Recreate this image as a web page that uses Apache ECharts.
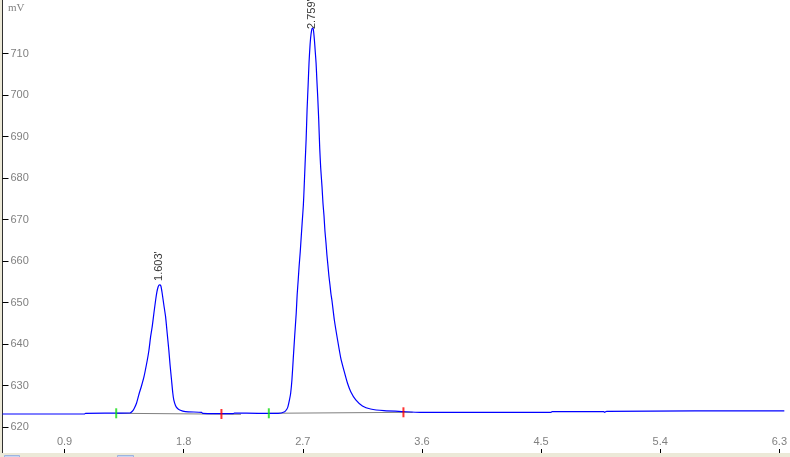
<!DOCTYPE html>
<html>
<head>
<meta charset="utf-8">
<script src="https://cdn.jsdelivr.net/npm/echarts@6/dist/echarts.min.js"></script>
<style>
  html, body { margin: 0; padding: 0; background: #fff; }
  #chart { width: 790px; height: 457px; }
</style>
</head>
<body>
<div id="chart"></div>
<script>
// detector trace, time in min, signal in mV
var time = [0.431, 1.05, 1.058, 1.393, 1.41, 1.425, 1.444, 1.4625, 1.481, 1.5, 1.525, 1.5375, 1.55, 1.562, 1.575, 1.588,
  1.5975, 1.607, 1.618, 1.6275, 1.637, 1.65, 1.663, 1.675, 1.6875, 1.697, 1.708, 1.7175, 1.725, 1.738, 1.75, 1.77,
  1.813, 1.935, 1.942, 2.175, 2.182, 2.3625, 2.5125, 2.5625, 2.58, 2.5875, 2.599, 2.608, 2.6175, 2.627, 2.638, 2.65,
  2.657, 2.665, 2.672, 2.68, 2.687, 2.695, 2.704, 2.71, 2.717, 2.725, 2.732, 2.74, 2.747, 2.755, 2.762, 2.771,
  2.779, 2.788, 2.794, 2.8, 2.806, 2.8125, 2.82, 2.8275, 2.835, 2.845, 2.852, 2.86, 2.867, 2.875, 2.882, 2.89,
  2.897, 2.905, 2.912, 2.92, 2.938, 2.9625, 2.987, 3.013, 3.0375, 3.062, 3.1, 3.15, 3.212, 3.313, 3.463, 3.587,
  3.7125, 4.575, 4.5825, 4.9725, 4.98, 4.995, 5.6625, 6.3375];
var signal = [623.13, 623.13, 623.30, 623.37, 623.73, 624.41, 625.78, 627.95, 629.88, 632.12, 636.14, 638.55, 641.76, 644.17, 647.47, 650.60,
  652.53, 653.81, 654.22, 653.98, 652.29, 649.40, 646.58, 642.65, 638.55, 634.94, 631.33, 628.19, 626.51, 625.18, 624.58, 624.10,
  623.69, 623.54, 623.30, 623.21, 623.37, 623.30, 623.30, 623.69, 624.34, 624.89, 626.51, 628.12, 631.33, 636.14, 641.76, 647.40,
  651.81, 655.42, 658.80, 662.05, 665.42, 669.28, 673.49, 677.83, 683.37, 689.40, 696.39, 702.41, 707.95, 712.29, 714.70, 716.14,
  715.90, 713.01, 710.36, 707.71, 703.61, 699.52, 693.97, 687.23, 682.41, 677.83, 673.98, 670.84, 667.23, 664.34, 661.45, 658.80,
  656.39, 654.22, 652.17, 650.48, 645.78, 640.96, 636.55, 633.33, 630.53, 628.51, 626.51, 625.06, 624.34, 623.93, 623.69, 623.54,
  623.54, 623.54, 623.69, 623.69, 623.54, 623.78, 623.86, 623.86];

var peakTime = [1.616, 2.771];
var peakValue = [654.22, 716.14];
var peakLabel = ["1.603'", "2.759'"];

var startTime = [1.29, 2.443];
var startValue = [623.30, 623.30];
var endTime = [2.085, 3.46];
var endValue = [623.13, 623.54];

var base1Time = [1.29, 2.2325];
var base1Value = [623.30, 623.06];
var base2Time = [2.443, 3.53];
var base2Value = [623.30, 623.54];

var xTicks = [0.9, 1.8, 2.7, 3.6, 4.5, 5.4, 6.3];
var yTicks = [620, 630, 640, 650, 660, 670, 680, 690, 700, 710];

// gap between apex and its label, px
var labelGap = [4, -1];

function pairs(xs, ys) {
  return xs.map(function (x, i) { return [x, ys[i]]; });
}

var chart = echarts.init(document.getElementById('chart'));
var labelFont = 'Liberation Sans';

var peakData = peakTime.map(function (t, i) {
  return { value: [t, peakValue[i]], label: { distance: labelGap[i] } };
});

chart.setOption({
  animation: false,
  backgroundColor: '#ffffff',
  grid: { left: 2.5, right: 0, top: 0, bottom: 4 },
  xAxis: {
    type: 'value',
    min: 0.431,
    max: 6.3375,
    axisLine: { show: false },
    axisTick: { show: true, inside: true, length: 4, customValues: xTicks, lineStyle: { color: '#000' } },
    axisLabel: { inside: true, margin: 6, customValues: xTicks, color: '#808080', fontSize: 11, fontFamily: labelFont,
      formatter: function (v) { return v.toFixed(1); } },
    splitLine: { show: false }
  },
  yAxis: {
    type: 'value',
    min: 613.73,
    max: 722.89,
    axisLine: { show: true, lineStyle: { color: '#303030', width: 1 } },
    axisTick: { show: true, inside: true, length: 6, customValues: yTicks, lineStyle: { color: '#000' } },
    axisLabel: { inside: true, margin: 8, customValues: yTicks, color: '#808080', fontSize: 11, fontFamily: labelFont },
    splitLine: { show: false }
  },
  graphic: [
    { type: 'rect', left: 0, top: 453, shape: { width: 790, height: 4 }, style: { fill: '#ece9d8' }, z: 10 },
    { type: 'rect', left: 0, top: 0, shape: { width: 2, height: 457 }, style: { fill: '#ece9d8' }, z: 10 },
    { type: 'rect', left: 4, top: 455, shape: { width: 15, height: 3 }, style: { fill: '#c8d6f0', stroke: '#9cb4e0' }, z: 11 },
    { type: 'rect', left: 117, top: 455, shape: { width: 16, height: 3 }, style: { fill: '#c8d6f0', stroke: '#9cb4e0' }, z: 11 },
    { type: 'text', left: 8, top: 3, style: { text: 'mV', fill: '#808080', font: '11px "Liberation Serif"' }, z: 10 }
  ],
  series: [
    {
      type: 'line', data: pairs(base1Time, base1Value), symbol: 'none',
      lineStyle: { color: '#808080', width: 1 }, z: 1
    },
    {
      type: 'line', data: pairs(base2Time, base2Value), symbol: 'none',
      lineStyle: { color: '#808080', width: 1 }, z: 1
    },
    {
      type: 'line', data: pairs(time, signal), symbol: 'none', smooth: 0.2,
      lineStyle: { color: '#0000ff', width: 1.2 }, z: 2
    },
    {
      type: 'scatter', data: peakData, symbolSize: 0, z: 3,
      label: {
        show: true, position: 'top', rotate: 90, align: 'left', verticalAlign: 'middle',
        color: '#000', fontSize: 11, fontFamily: labelFont,
        formatter: function (p) { return peakLabel[p.dataIndex]; }
      }
    },
    {
      type: 'scatter', data: pairs(startTime, startValue), symbol: 'rect', symbolSize: [2, 10],
      itemStyle: { color: '#11dd11' }, z: 4
    },
    {
      type: 'scatter', data: pairs(endTime, endValue), symbol: 'rect', symbolSize: [2, 10],
      itemStyle: { color: '#ff0000' }, z: 4
    }
  ]
});
</script>
</body>
</html>
